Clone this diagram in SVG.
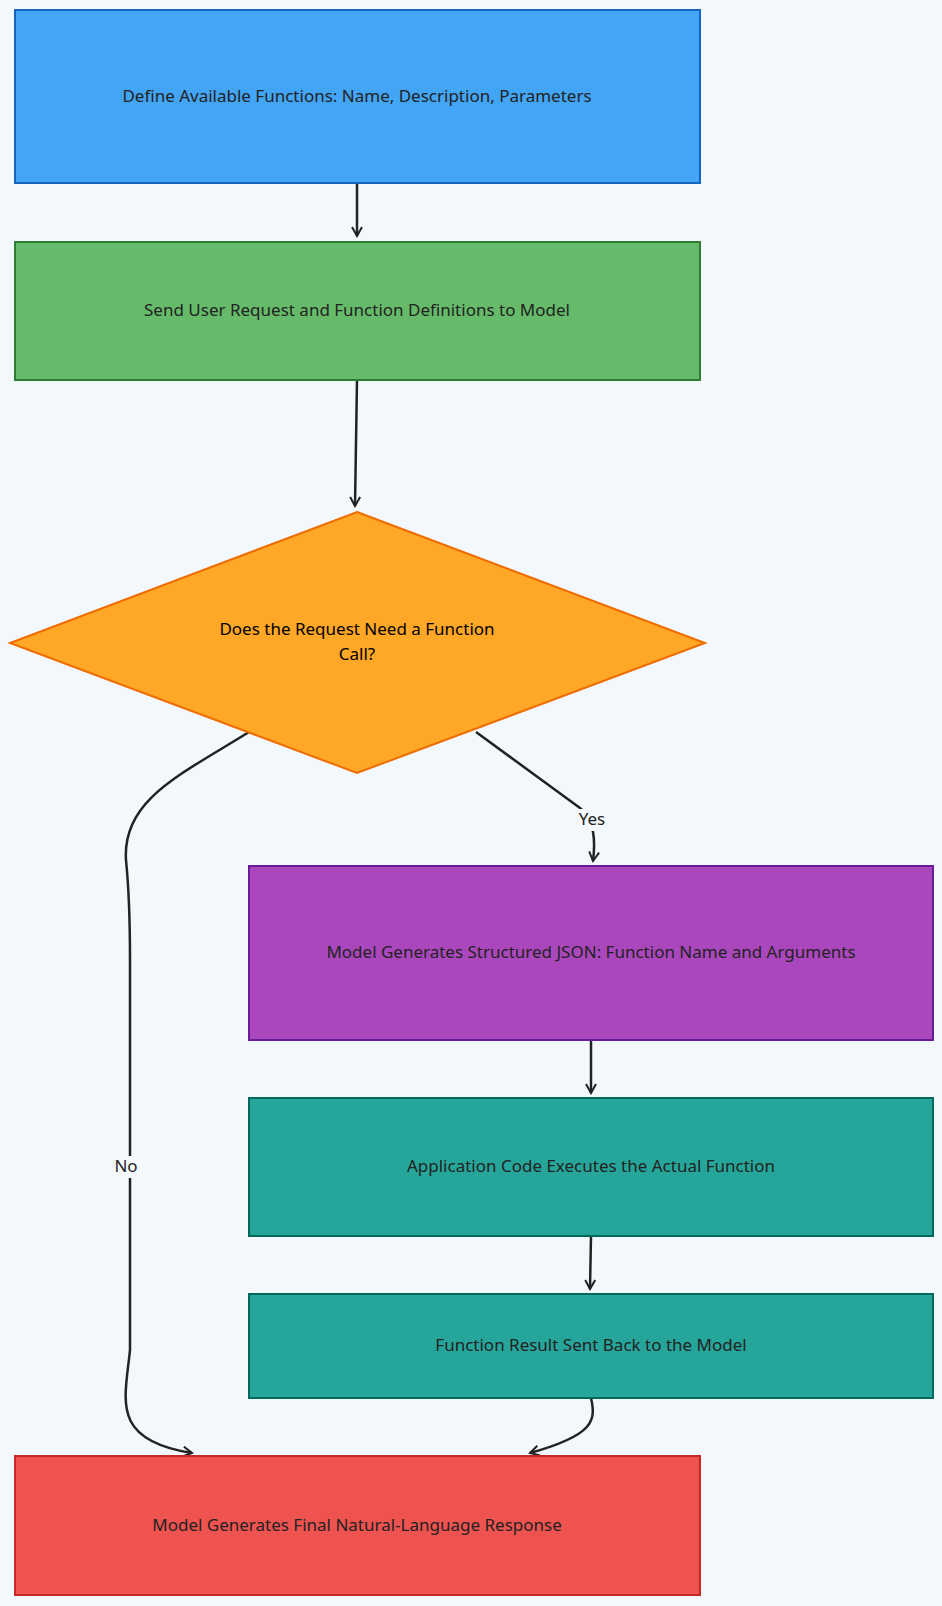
<svg xmlns="http://www.w3.org/2000/svg" width="942" height="1606" viewBox="0 0 942 1606">
<defs>
<marker id="ar" viewBox="0 0 12 12" refX="10" refY="6" markerWidth="12" markerHeight="12" orient="auto" markerUnits="userSpaceOnUse"><path d="M1,1 L10,6 L1,11" fill="none" stroke="#222" stroke-width="2"/></marker>
<style>
text{font-family:"Noto Sans","Liberation Sans",sans-serif;font-size:17px;fill:#222;text-anchor:middle;dominant-baseline:middle}
.n{stroke-width:2}
.c{fill:none;stroke:#222;stroke-width:2.5;marker-end:url(#ar)}
.lb{fill:#f3f8fd}
</style>
</defs>
<rect width="942" height="1606" fill="#f3f8fd"/>
<g id="connectors">
<path class="c" d="M357,183 L357,236"/>
<path class="c" d="M357,380 L355,506"/>
<path class="c" d="M476,732 L580,808 Q598,822 593,861"/>
<path class="c" d="M249,732 C180,775 122,800 126,860 C130,900 130,940 130,960 L130,1350 C125,1400 110,1440 192,1453"/>
<path class="c" d="M591,1040 L591,1093"/>
<path class="c" d="M591,1236 L590,1289"/>
<path class="c" d="M591,1398 C596,1420 595,1435 530,1453"/>
<rect class="lb" x="572" y="809" width="40" height="22"/>
<text x="592" y="820">Yes</text>
<rect class="lb" x="110" y="1156" width="32" height="22"/>
<text x="126" y="1167">No</text>
</g>
<g id="n1"><rect class="n" x="15" y="10" width="685" height="173" fill="#42a5f5" stroke="#1565c0"/><text x="357" y="97">Define Available Functions: Name, Description, Parameters</text></g>
<g id="n2"><rect class="n" x="15" y="242" width="685" height="138" fill="#66bb6a" stroke="#2e7d32"/><text x="357" y="311">Send User Request and Function Definitions to Model</text></g>
<g id="n3"><polygon class="n" points="357,512 705,643 357,773 10,643" fill="#ffa726" stroke="#ef6c00"/><text x="357" y="630" style="fill:#000">Does the Request Need a Function</text><text x="357" y="655" style="fill:#000">Call?</text></g>
<g id="n4"><rect class="n" x="249" y="866" width="684" height="174" fill="#ab47bc" stroke="#6a1b9a"/><text x="591" y="953">Model Generates Structured JSON: Function Name and Arguments</text></g>
<g id="n5"><rect class="n" x="249" y="1098" width="684" height="138" fill="#26a69a" stroke="#00695c"/><text x="591" y="1167">Application Code Executes the Actual Function</text></g>
<g id="n6"><rect class="n" x="249" y="1294" width="684" height="104" fill="#26a69a" stroke="#00695c"/><text x="591" y="1346">Function Result Sent Back to the Model</text></g>
<g id="n7"><rect class="n" x="15" y="1456" width="685" height="139" fill="#ef5350" stroke="#c62828"/><text x="357" y="1526">Model Generates Final Natural-Language Response</text></g>
</svg>
